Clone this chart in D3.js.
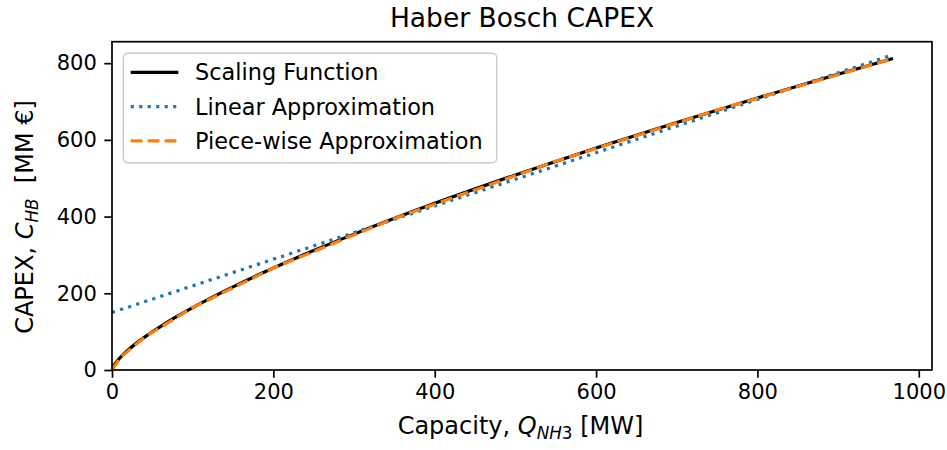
<!DOCTYPE html>
<html>
<head>
<meta charset="utf-8">
<script src="https://cdn.jsdelivr.net/npm/d3@7"></script>
<style>
  html, body { margin: 0; padding: 0; background: #fff; }
  svg { display: block; font-family: "DejaVu Sans", sans-serif; }
  text { white-space: pre; }
</style>
</head>
<body>
<svg id="chart" width="947" height="450"></svg>
<script>
// Haber-Bosch plant capital cost against ammonia capacity.
// Capacity Q_NH3 in MW, cost C_HB in million euro.
const scalingQ = [0, 2, 5, 10, 20, 30, 40, 60, 80, 100, 150, 200, 250, 300, 400, 500, 600, 700, 800, 900, 968];
const scalingC = [0, 10.2, 19.5, 31.9, 52.1, 69.4, 85.1, 113.3, 139.0, 162.8, 216.9, 265.9, 311.4, 354.3, 434.5, 508.7, 578.8, 645.5, 709.4, 771.2, 812];

const linearQ = [0, 968];
const linearC = [150, 822];

const pieceQ = [0, 10, 40, 100, 200, 350, 550, 750, 968];
const pieceC = [0, 31.9, 85.1, 162.8, 265.9, 395.2, 544.2, 677.8, 812];

const xTicks = [0, 200, 400, 600, 800, 1000];
const yTicks = [0, 200, 400, 600, 800];

const seriesNames = ["Scaling Function", "Linear Approximation", "Piece-wise Approximation"];
const seriesColors = ["#000000", "#1f77b4", "#ff7f0e"];

const svg = d3.select("#chart");
const plot = { left: 112, right: 932, top: 41.7, bottom: 370 };

const x = d3.scaleLinear().domain([0, 1016.4]).range([plot.left, plot.right]);
const y = d3.scaleLinear().domain([0, 856]).range([plot.bottom, plot.top]);

const lw = 3.2;
const tickFont = 21;
const legendFont = 22.4;
const labelFont = 24;
const subFont = 16.8;

svg.append("clipPath").attr("id", "plotClip")
  .append("rect")
  .attr("x", plot.left).attr("y", plot.top)
  .attr("width", plot.right - plot.left).attr("height", plot.bottom - plot.top);

const zip = (qs, cs) => qs.map((q, i) => ({ q, c: cs[i] }));

const lines = svg.append("g").attr("clip-path", "url(#plotClip)");

// Scaling function: smooth curve through the sampled values
lines.append("path")
  .datum(zip(scalingQ, scalingC))
  .attr("fill", "none")
  .attr("stroke", seriesColors[0])
  .attr("stroke-width", lw)
  .attr("d", d3.line().x(d => x(d.q)).y(d => y(d.c)).curve(d3.curveMonotoneX));

// Linear approximation (dotted)
lines.append("path")
  .datum(zip(linearQ, linearC))
  .attr("fill", "none")
  .attr("stroke", seriesColors[1])
  .attr("stroke-width", lw)
  .attr("stroke-dasharray", `${lw} ${lw * 1.65}`)
  .attr("d", d3.line().x(d => x(d.q)).y(d => y(d.c)));

// Piece-wise linear approximation (dashed)
lines.append("path")
  .datum(zip(pieceQ, pieceC))
  .attr("fill", "none")
  .attr("stroke", seriesColors[2])
  .attr("stroke-width", lw)
  .attr("stroke-dasharray", `${lw * 3.7} ${lw * 1.6}`)
  .attr("d", d3.line().x(d => x(d.q)).y(d => y(d.c)));

// Axes
const xAxis = d3.axisBottom(x).tickValues(xTicks).tickSize(7.7).tickPadding(6.5).tickFormat(d3.format("d"));
const yAxis = d3.axisLeft(y).tickValues(yTicks).tickSize(7.7).tickPadding(7.5).tickFormat(d3.format("d"));

const gx = svg.append("g").attr("transform", `translate(0,${plot.bottom})`).call(xAxis);
const gy = svg.append("g").attr("transform", `translate(${plot.left},0)`).call(yAxis);
[gx, gy].forEach(g => {
  g.select(".domain").remove();
  g.selectAll(".tick line").attr("stroke", "#000").attr("stroke-width", 1.7);
  g.selectAll(".tick text").attr("fill", "#000")
    .style("font-size", tickFont + "px").style("font-family", "DejaVu Sans");
});

// Frame
svg.append("rect")
  .attr("x", plot.left).attr("y", plot.top)
  .attr("width", plot.right - plot.left).attr("height", plot.bottom - plot.top)
  .attr("fill", "none").attr("stroke", "#000").attr("stroke-width", 1.7);

// Title
svg.append("text")
  .attr("x", (plot.left + plot.right) / 2).attr("y", 26.5)
  .attr("text-anchor", "middle")
  .style("font-size", "26.5px").attr("fill", "#000")
  .text("Haber Bosch CAPEX");

// X axis label
const xl = svg.append("text")
  .attr("x", 520.5).attr("y", 434)
  .attr("text-anchor", "middle")
  .style("font-size", labelFont + "px").attr("fill", "#000");
xl.append("tspan").text("Capacity, ");
xl.append("tspan").attr("font-style", "italic").text("Q");
xl.append("tspan").attr("font-style", "italic").attr("dy", 5).style("font-size", subFont + "px").text("NH");
xl.append("tspan").style("font-size", subFont + "px").text("3");
xl.append("tspan").attr("dy", -5).text(" [MW]");

// Y axis label
const yl = svg.append("text")
  .attr("transform", "translate(33,217) rotate(-90)")
  .attr("text-anchor", "middle")
  .style("font-size", labelFont + "px").attr("fill", "#000");
yl.append("tspan").text("CAPEX, ");
yl.append("tspan").attr("font-style", "italic").text("C");
yl.append("tspan").attr("font-style", "italic").attr("dy", 5).style("font-size", subFont + "px").text("HB");
yl.append("tspan").attr("dy", -5).text("  [MM €]");

// Legend
const lg = svg.append("g");
lg.append("rect")
  .attr("x", 123.3).attr("y", 53.3).attr("width", 373.4).attr("height", 109.4)
  .attr("rx", 4.5).attr("ry", 4.5)
  .attr("fill", "#fff").attr("fill-opacity", 0.8)
  .attr("stroke", "#cccccc").attr("stroke-width", 1.5);

const rowY = [72.3, 106.6, 140.8];
const dashes = [null, `${lw} ${lw * 1.65}`, `${lw * 3.7} ${lw * 1.6}`];
seriesNames.forEach((name, i) => {
  lg.append("line")
    .attr("x1", 130.7).attr("x2", 178.3)
    .attr("y1", rowY[i]).attr("y2", rowY[i])
    .attr("stroke", seriesColors[i]).attr("stroke-width", lw)
    .attr("stroke-dasharray", dashes[i]);
  lg.append("text")
    .attr("x", 195).attr("y", rowY[i] + 8)
    .style("font-size", legendFont + "px").attr("fill", "#000")
    .text(name);
});
</script>
</body>
</html>
